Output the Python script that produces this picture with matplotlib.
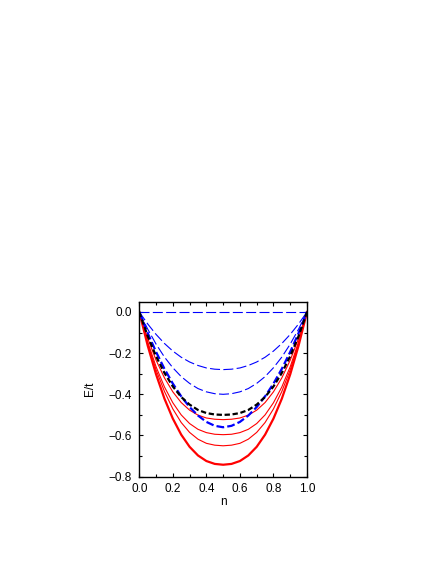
import numpy as np
import matplotlib
matplotlib.use("Agg")
import matplotlib.pyplot as plt
from matplotlib.ticker import MultipleLocator

plt.rcParams['font.family'] = ['Liberation Sans', 'DejaVu Sans']

# filling n
n = [0.00, 0.05, 0.10, 0.15, 0.20, 0.25, 0.30, 0.35, 0.40, 0.45, 0.50,
     0.55, 0.60, 0.65, 0.70, 0.75, 0.80, 0.85, 0.90, 0.95, 1.00]

# blue dashed curves (top to bottom)
blue_0 = [0.0] * 21
blue_1 = [0.000, -0.058, -0.109, -0.153, -0.190, -0.220, -0.243, -0.260, -0.272, -0.278, -0.280,
          -0.278, -0.272, -0.260, -0.243, -0.220, -0.190, -0.153, -0.109, -0.058, 0.000]
blue_2 = [0.000, -0.083, -0.156, -0.219, -0.271, -0.314, -0.347, -0.372, -0.388, -0.397, -0.400,
          -0.397, -0.388, -0.372, -0.347, -0.314, -0.271, -0.219, -0.156, -0.083, 0.000]
blue_3 = [0.000, -0.102, -0.194, -0.276, -0.348, -0.410, -0.462, -0.503, -0.534, -0.553, -0.560,
          -0.553, -0.534, -0.503, -0.462, -0.410, -0.348, -0.276, -0.194, -0.102, 0.000]

# black dashed curve
black = [0.000, -0.117, -0.215, -0.296, -0.362, -0.413, -0.450, -0.476, -0.491, -0.498, -0.500,
         -0.498, -0.491, -0.476, -0.450, -0.413, -0.362, -0.296, -0.215, -0.117, 0.000]

# red solid curves (top to bottom)
red_1 = [0.000, -0.128, -0.234, -0.320, -0.388, -0.440, -0.477, -0.501, -0.515, -0.521, -0.523,
         -0.521, -0.515, -0.501, -0.477, -0.440, -0.388, -0.320, -0.234, -0.128, 0.000]
red_2 = [0.000, -0.145, -0.266, -0.364, -0.441, -0.500, -0.542, -0.570, -0.586, -0.594, -0.596,
         -0.594, -0.586, -0.570, -0.542, -0.500, -0.441, -0.364, -0.266, -0.145, 0.000]
red_3 = [0.000, -0.153, -0.281, -0.386, -0.471, -0.537, -0.585, -0.618, -0.638, -0.647, -0.650,
         -0.647, -0.638, -0.618, -0.585, -0.537, -0.471, -0.386, -0.281, -0.153, 0.000]
red_4 = [0.000, -0.163, -0.303, -0.421, -0.518, -0.596, -0.655, -0.697, -0.724, -0.738, -0.742,
         -0.738, -0.724, -0.697, -0.655, -0.596, -0.518, -0.421, -0.303, -0.163, 0.000]

fig = plt.figure(figsize=(4.47, 5.78), dpi=100)
ax = fig.add_axes([0.3116, 0.1753, 0.3752, 0.3028])

for y in [red_1, red_2, red_3]:
    ax.plot(n, y, color='red', lw=0.8)
ax.plot(n, red_4, color='red', lw=1.6)

for y in [blue_0, blue_1, blue_2]:
    ax.plot(n, y, color='blue', lw=0.8, dashes=(9, 3))
ax.plot(n, blue_3, color='blue', lw=1.6, dashes=(3.5, 1.4))
ax.plot(n, black, color='black', lw=1.6, dashes=(2.4, 1.2))

ax.set_xlim(0, 1)
ax.set_ylim(-0.8, 0.05)
ax.xaxis.set_major_locator(MultipleLocator(0.2))
ax.xaxis.set_minor_locator(MultipleLocator(0.1))
ax.yaxis.set_major_locator(MultipleLocator(0.2))
ax.yaxis.set_minor_locator(MultipleLocator(0.1))
ax.set_xticklabels([f"{v:.1f}" for v in ax.get_xticks()])
ax.tick_params(which='both', direction='in', top=True, right=True, labelsize=8.5, width=0.8)
ax.tick_params(which='major', length=3)
ax.tick_params(which='minor', length=2.2)
ax.tick_params(axis='y', pad=5.5)
ax.tick_params(axis='x', pad=4.5)
for s in ax.spines.values():
    s.set_linewidth(1.0)

ax.set_xlabel('n', fontsize=8.5, labelpad=1)
ax.set_ylabel('E/t', fontsize=8.5, labelpad=9)

fig.savefig('out.png', dpi=100)
